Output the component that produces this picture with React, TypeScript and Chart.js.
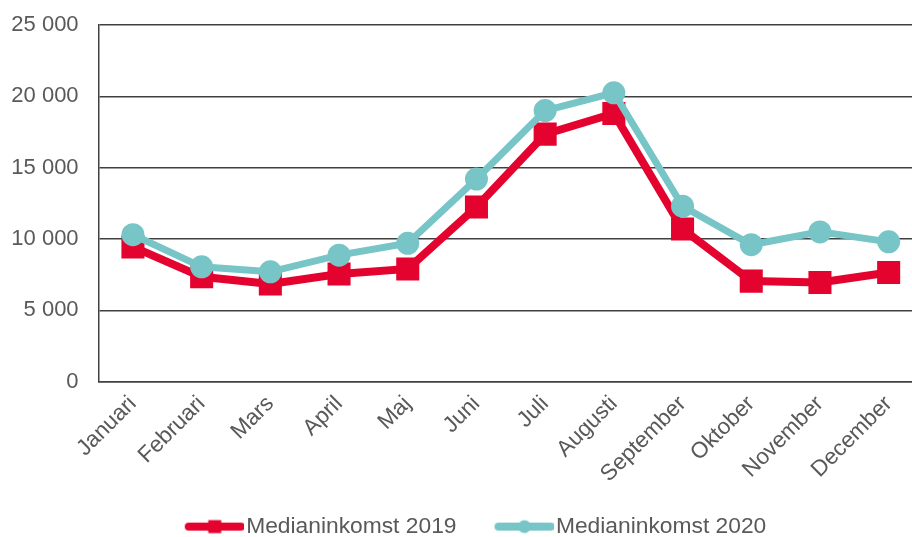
import React, { useEffect, useRef } from "react";
import { Chart, registerables } from "chart.js";

Chart.register(...registerables);

const months = [
  "Januari", "Februari", "Mars", "April", "Maj", "Juni",
  "Juli", "Augusti", "September", "Oktober", "November", "December",
];
const median2019 = [9450, 7350, 6850, 7550, 7900, 12250, 17350, 18800, 10700, 7050, 6950, 7650];
const median2020 = [10300, 8050, 7700, 8870, 9700, 14200, 19000, 20250, 12300, 9600, 10500, 9800];
const yTicks = [0, 5000, 10000, 15000, 20000, 25000];
const seriesNames = ["Medianinkomst 2019", "Medianinkomst 2020"];

const RED = "#E4032E";
const TEAL = "#77C5C6";
const TEXT = "#595959";
const FONT = "'Liberation Sans', Arial, sans-serif";

function fmt(v: number) {
  return String(v).replace(/\B(?=(\d{3})+(?!\d))/g, " ");
}

function legendIcon(color: string, kind: "rect" | "circle") {
  const c = document.createElement("canvas");
  c.width = 96;
  c.height = 16;
  const ctx = c.getContext("2d")!;
  ctx.strokeStyle = color;
  ctx.fillStyle = color;
  ctx.lineWidth = 8;
  ctx.lineCap = "round";
  ctx.beginPath();
  ctx.moveTo(41, 8);
  ctx.lineTo(93, 8);
  ctx.stroke();
  const cx = 67;
  if (kind === "rect") {
    ctx.fillRect(cx - 6.5, 1.5, 13, 13);
  } else {
    ctx.beginPath();
    ctx.arc(cx, 8, 6.5, 0, Math.PI * 2);
    ctx.fill();
  }
  return c;
}

export default function App() {
  const ref = useRef<HTMLCanvasElement>(null);
  useEffect(() => {
    if (!ref.current) return;
    const icons = [legendIcon(RED, "rect"), legendIcon(TEAL, "circle")];
    const chart = new Chart(ref.current, {
      type: "line",
      data: {
        labels: months,
        datasets: [
          {
            label: seriesNames[0],
            data: median2019,
            borderColor: RED,
            backgroundColor: RED,
            borderWidth: 8,
            pointStyle: "rect",
            pointRadius: 16.3,
            pointBorderWidth: 0,
            pointBackgroundColor: RED,
            tension: 0,
            order: 2,
          },
          {
            label: seriesNames[1],
            data: median2020,
            borderColor: TEAL,
            backgroundColor: TEAL,
            borderWidth: 7,
            pointStyle: "circle",
            pointRadius: 11.5,
            pointBorderWidth: 0,
            pointBackgroundColor: TEAL,
            tension: 0,
            order: 1,
          },
        ],
      },
      options: {
        responsive: false,
        animation: false,
        layout: { autoPadding: false, padding: { top: 25, bottom: -11, left: 0, right: 0 } },
        plugins: {
          tooltip: { enabled: false },
          legend: {
            position: "bottom",
            labels: {
              usePointStyle: true,
              pointStyleWidth: 78,
              padding: 10,
              color: TEXT,
              font: { family: FONT, size: 22.8 },
              generateLabels: (ch: any) =>
                ch.data.datasets.map((ds: any, i: number) => ({
                  text: ds.label,
                  fillStyle: ds.borderColor,
                  strokeStyle: ds.borderColor,
                  lineWidth: 0,
                  pointStyle: icons[i],
                  hidden: false,
                  datasetIndex: i,
                  fontColor: TEXT,
                })),
            },
          },
        },
        scales: {
          x: {
            offset: true,
            grid: { display: false, drawTicks: false },
            border: { display: true, color: "#404040", width: 1.5 },
            ticks: {
              color: TEXT,
              font: { family: FONT, size: 22.5 },
              minRotation: 45,
              maxRotation: 45,
              autoSkip: false,
              padding: 9,
            },
            afterFit: (s: any) => {
              s.height = 123.5;
              s.paddingLeft = 0;
              s.paddingRight = 0;
            },
          },
          y: {
            min: 0,
            max: 25000,
            afterBuildTicks: (s: any) => {
              s.ticks = yTicks.map((v) => ({ value: v }));
            },
            grid: { color: "#404040", lineWidth: 1.5, drawTicks: false },
            border: { display: true, color: "#404040", width: 1.5 },
            ticks: {
              color: TEXT,
              font: { family: FONT, size: 22 },
              padding: 20,
              callback: (v: any) => fmt(Number(v)),
            },
            afterFit: (s: any) => {
              s.width = 98.6;
              s.paddingTop = 0;
              s.paddingBottom = 0;
            },
          },
        },
      },
    });
    return () => chart.destroy();
  }, []);
  return (
    <div
      style={{
        position: "fixed",
        left: 0,
        top: 0,
        width: 912,
        height: 537,
        overflow: "hidden",
        background: "#fff",
      }}
    >
      <canvas ref={ref} width={923} height={537} />
    </div>
  );
}
